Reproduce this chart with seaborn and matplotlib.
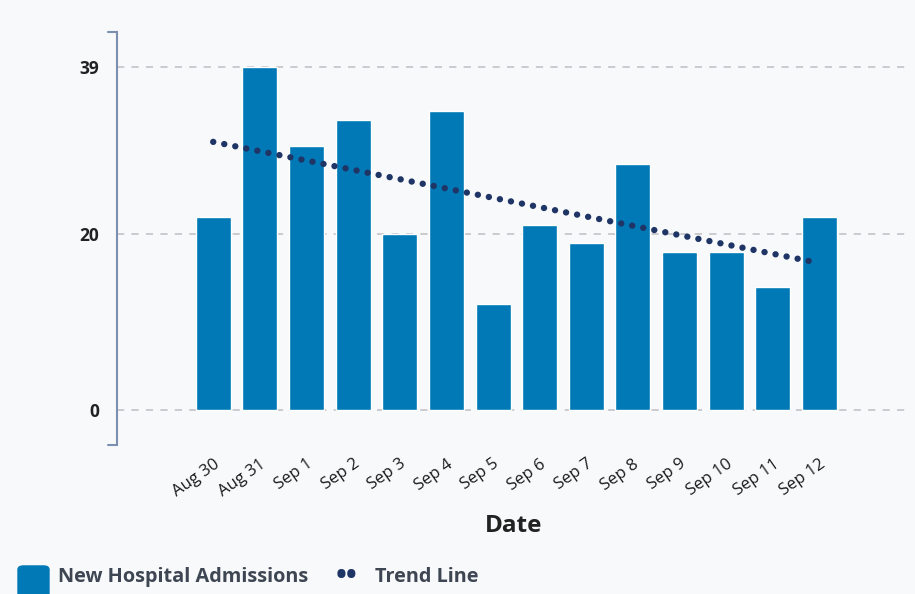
import seaborn as sns
import matplotlib.pyplot as plt
import pandas as pd
from matplotlib.patches import FancyBboxPatch

# values
dates = ['Aug 30', 'Aug 31', 'Sep 1', 'Sep 2', 'Sep 3', 'Sep 4', 'Sep 5',
         'Sep 6', 'Sep 7', 'Sep 8', 'Sep 9', 'Sep 10', 'Sep 11', 'Sep 12']
admissions = [22, 39, 30, 33, 20, 34, 12, 21, 19, 28, 18, 18, 14, 22]
trend_dates = ['Aug 30', 'Sep 12']
trend_values = [30.5, 16.7]
y_ticks = [0, 20, 39]

bar_color = '#0079b6'
trend_color = '#1f3566'
bg = '#f8f9fa'

sns.set_style('white')
plt.rcParams['font.family'] = ['Open Sans', 'DejaVu Sans']

df = pd.DataFrame({'date': dates, 'admissions': admissions})

fig = plt.figure(figsize=(9.15, 5.94), dpi=100, facecolor=bg)
ax = fig.add_axes([0.128, 0.251, 0.867, 0.695])
ax.set_facecolor(bg)

# dashed grid lines first so bars sit on top
for t in y_ticks:
    ax.axhline(t, color='#c8c8cc', lw=1.3, ls=(0, (4, 4)), zorder=0)

sns.barplot(data=df, x='date', y='admissions', color=bar_color,
            width=0.75, saturation=1, ax=ax, zorder=2)

# trend line drawn as round dots
tx = [dates.index(d) for d in trend_dates]
ax.plot(tx, trend_values, color=trend_color, lw=4.6,
        ls=(0, (0.01, 1.75)), dash_capstyle='round', zorder=3)

ax.set_xlim(-2.06, 14.95)
ax.set_ylim(-4, 43)
ax.set_yticks(y_ticks)
ax.set_yticklabels([str(t) for t in y_ticks], fontsize=12.5,
                   fontweight='bold', color='#222222')
ax.tick_params(axis='y', length=0, pad=13)
ax.tick_params(axis='x', length=0, pad=8)
for lab in ax.get_xticklabels():
    lab.set_rotation(35)
    lab.set_ha('right')
    lab.set_rotation_mode('anchor')
    lab.set_fontsize(12)
    lab.set_color('#1a1a1a')

ax.set_xlabel('Date', fontsize=17.5, fontweight='bold', color='#222222',
              labelpad=10)
ax.set_ylabel('')

for side in ['top', 'right', 'bottom']:
    ax.spines[side].set_visible(False)
ax.spines['left'].set_color('#7b8fb0')
ax.spines['left'].set_linewidth(1.5)
# small caps at both ends of the y spine
for yy in (0, 1):
    ax.plot([-0.011, 0], [yy, yy], transform=ax.transAxes, color='#7b8fb0',
            lw=1.5, clip_on=False)

# legend at the bottom left
fig.patches.append(FancyBboxPatch((18 / 915, -0.005), 31 / 915, 31 / 594,
                                  boxstyle='round,pad=0,rounding_size=0.006',
                                  transform=fig.transFigure, color=bar_color,
                                  clip_on=False))
fig.text(58 / 915, 0.028, 'New Hospital Admissions', fontsize=14.3,
         fontweight='bold', color='#3d4652', va='center')
fig.text(336 / 915, 0.030, '••', fontsize=21, fontweight='bold',
         color=trend_color, va='center')
fig.text(375 / 915, 0.028, 'Trend Line', fontsize=14.3,
         fontweight='bold', color='#3d4652', va='center')

fig.savefig('out.png', dpi=100, facecolor=bg)
